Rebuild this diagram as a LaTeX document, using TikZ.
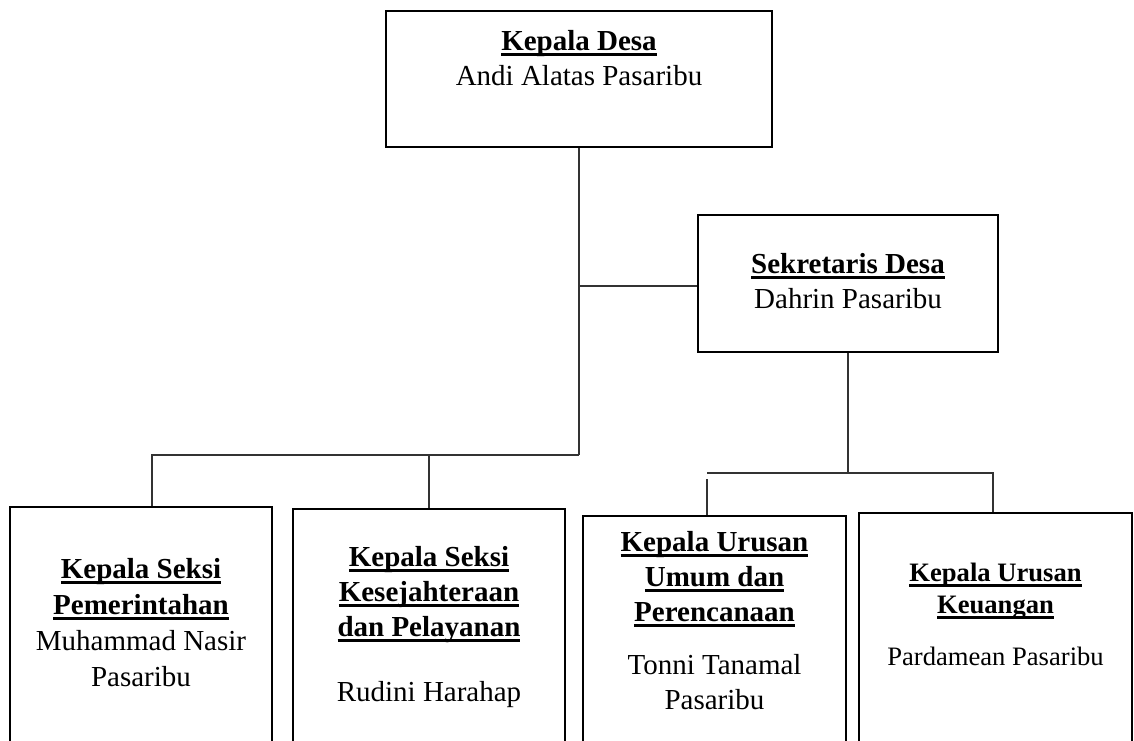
\documentclass[tikz,border=0pt]{standalone}
\usepackage{fontspec}
\setmainfont{Liberation Serif}
\usetikzlibrary{positioning}
\newsavebox\kotakteks
\newcommand{\garisbawah}[1]{\sbox\kotakteks{\textbf{#1}}\rlap{\vrule height -2.5pt depth 4.7pt width \wd\kotakteks}\usebox\kotakteks}

\begin{document}
\begin{tikzpicture}[x=1pt,y=-1pt]
\tikzstyle{kotak}=[draw, line width=2.5pt, inner sep=0pt]
\tikzstyle{teks}=[align=center, inner sep=0pt, font=\fontsize{29}{35}\selectfont]
\tikzstyle{garis}=[line width=1.2pt, draw=black!80]
\useasboundingbox (0,0) rectangle (1134,740);
\clip (0,0) rectangle (1134,740);
\node [kotak, minimum width=386pt, minimum height=136pt] (kades) at (579,79) {};
\node [kotak, minimum width=300pt, minimum height=137pt] (sekdes) at (848,283.5) {};
\node [kotak, minimum width=262pt, minimum height=283pt] (kasi1) at (141,648.5) {};
\node [kotak, minimum width=272pt, minimum height=281pt] (kasi2) at (429,649.5) {};
\node [kotak, minimum width=263pt, minimum height=274pt] (kaur1) at (714.5,653) {};
\node [kotak, minimum width=273pt, minimum height=277pt] (kaur2) at (995.5,651.5) {};
\node [teks, below=16.5pt of kades.north] (t-kades) {\strut\garisbawah{Kepala Desa}\\Andi Alatas Pasaribu};
\node [teks, below=35.5pt of sekdes.north] (t-sekdes) {\strut\garisbawah{Sekretaris Desa}\\Dahrin Pasaribu};
\node [teks, font=\fontsize{29}{36}\selectfont, below=47.8pt of kasi1.north] (t-kasi1) {\strut\garisbawah{Kepala Seksi}\\\garisbawah{Pemerintahan}\\Muhammad Nasir\\Pasaribu};
\node [teks, below=34.5pt of kasi2.north] (t-kasi2) {\strut\garisbawah{Kepala Seksi}\\\garisbawah{Kesejahteraan}\\\garisbawah{dan Pelayanan}\\[30pt]Rudini Harahap};
\node [teks, below=12.5pt of kaur1.north] (t-kaur1) {\strut\garisbawah{Kepala Urusan}\\\garisbawah{Umum dan}\\\garisbawah{Perencanaan}\\[18pt]Tonni Tanamal\\Pasaribu};
\node [teks, font=\fontsize{26.6}{32}\selectfont, below=47.6pt of kaur2.north] (t-kaur2) {\strut\garisbawah{Kepala Urusan}\\\garisbawah{Keuangan}\\[20pt]Pardamean Pasaribu};
\coordinate (simpang1) at (579,455);
\coordinate (simpang2) at (579,286);
\coordinate (simpang3) at (848,473);
\draw [garis] (kades.south) -- (simpang1);
\draw [garis] (simpang2) -- (simpang2 -| sekdes.west);
\draw [garis] (simpang1) -| ([xshift=11pt]kasi1.north);
\draw [garis] (simpang1 -| kasi2.north) -- (kasi2.north);
\draw [garis] (sekdes.south) -- (simpang3);
\draw [garis] ([xshift=-7.5pt]kaur1.north |- simpang3) -- ([xshift=-2.5pt]kaur2.north |- simpang3) -- ([xshift=-2.5pt]kaur2.north);
\draw [garis] ([xshift=-7.5pt,yshift=-6pt]kaur1.north |- simpang3) -- ([xshift=-7.5pt]kaur1.north);
\end{tikzpicture}
\end{document}
